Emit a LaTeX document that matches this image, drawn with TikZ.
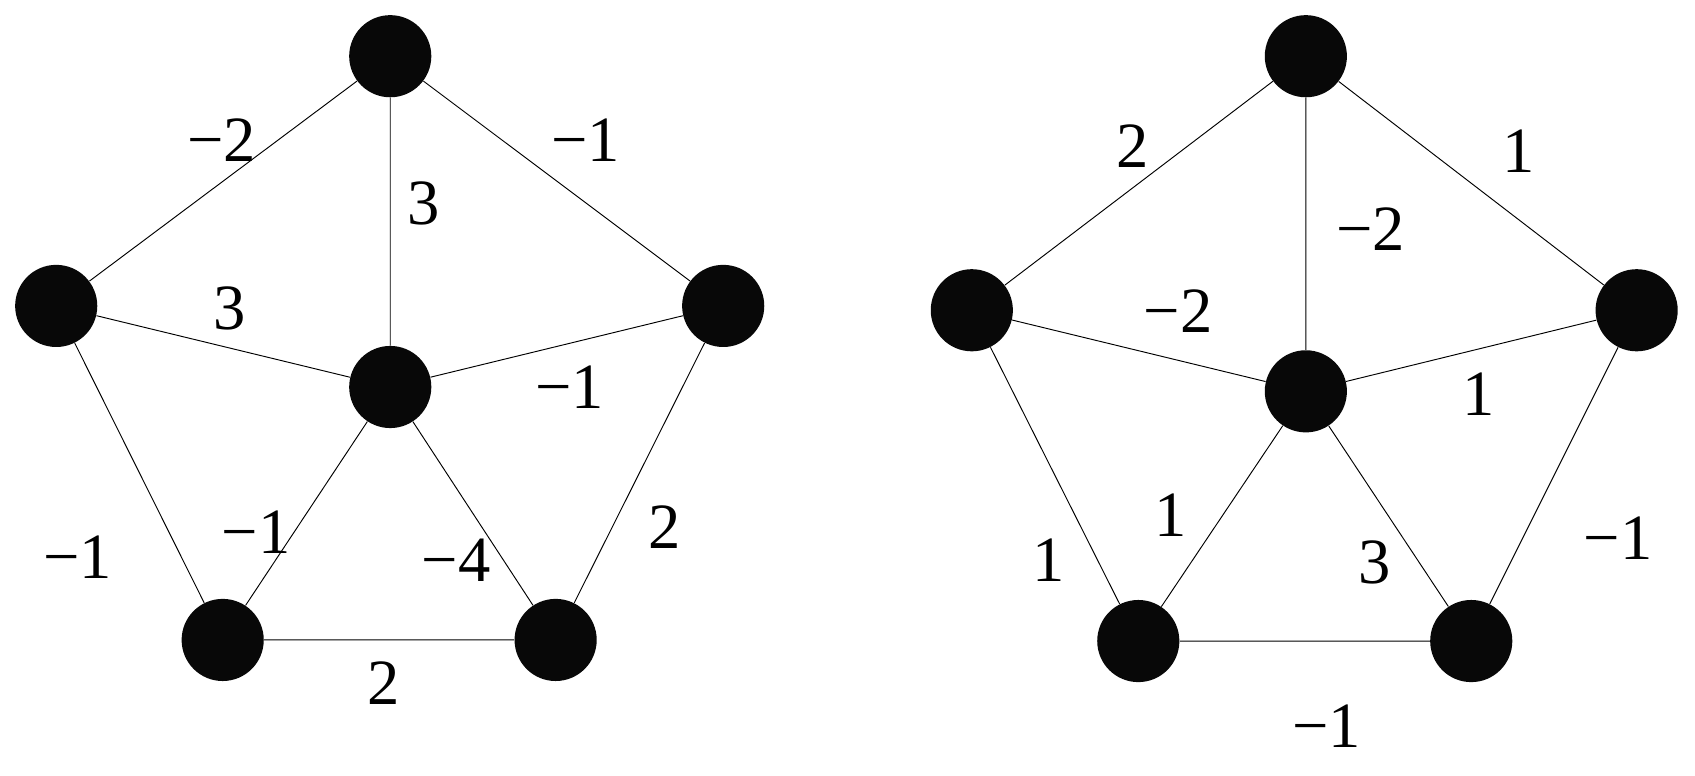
\documentclass[tikz,border=0pt]{standalone}
\usepackage{fontspec}
\setmainfont{Liberation Serif}
\begin{document}
\begin{tikzpicture}[x=0.02cm,y=-0.02cm,
  v/.style={circle,fill=black!97,minimum size=1.52cm,inner sep=0pt},
  e/.style={line width=0.5pt},
  lab/.style={font=\fontsize{34}{40}\selectfont,inner sep=0pt}]
\useasboundingbox (0,0) rectangle (1568,717);
\node[v] (at) at (361,52) {};
\node[v] (al) at (52,283) {};
\node[v] (ar) at (669,283) {};
\node[v] (ac) at (361,358) {};
\node[v] (abl) at (206,592) {};
\node[v] (abr) at (514,592) {};
\draw[e] (at)--(al) (at)--(ar) (at)--(ac) (al)--(ac) (ar)--(ac) (al)--(abl) (ar)--(abr) (ac)--(abl) (ac)--(abr) (abl)--(abr);
\node[lab] (l1) at (205,130) {−2};
\node[lab] (l2) at (542,130) {−1};
\node[lab] (l3) at (392,188) {3};
\node[lab] (l4) at (212,285) {3};
\node[lab] (l5) at (527,358) {−1};
\node[lab] (l6) at (237,492) {−1};
\node[lab] (l7) at (422,518) {−4};
\node[lab] (l8) at (615,488) {2};
\node[lab] (l9) at (72,515) {−1};
\node[lab] (l10) at (355,632) {2};
\node[v] (bt) at (1208,52) {};
\node[v] (bl) at (899,287) {};
\node[v] (br) at (1514,287) {};
\node[v] (bc) at (1208,362) {};
\node[v] (bbl) at (1053,593) {};
\node[v] (bbr) at (1361,593) {};
\draw[e] (bt)--(bl) (bt)--(br) (bt)--(bc) (bl)--(bc) (br)--(bc) (bl)--(bbl) (br)--(bbr) (bc)--(bbl) (bc)--(bbr) (bbl)--(bbr);
\node[lab] (m1) at (1048,135) {2};
\node[lab] (m2) at (1405,140) {1};
\node[lab] (m3) at (1268,212) {−2};
\node[lab] (m4) at (1090,288) {−2};
\node[lab] (m5) at (1368,365) {1};
\node[lab] (m6) at (1083,477) {1};
\node[lab] (m7) at (1272,520) {3};
\node[lab] (m8) at (1497,498) {−1};
\node[lab] (m9) at (970,518) {1};
\node[lab] (m10) at (1227,672) {−1};
\end{tikzpicture}
\end{document}
